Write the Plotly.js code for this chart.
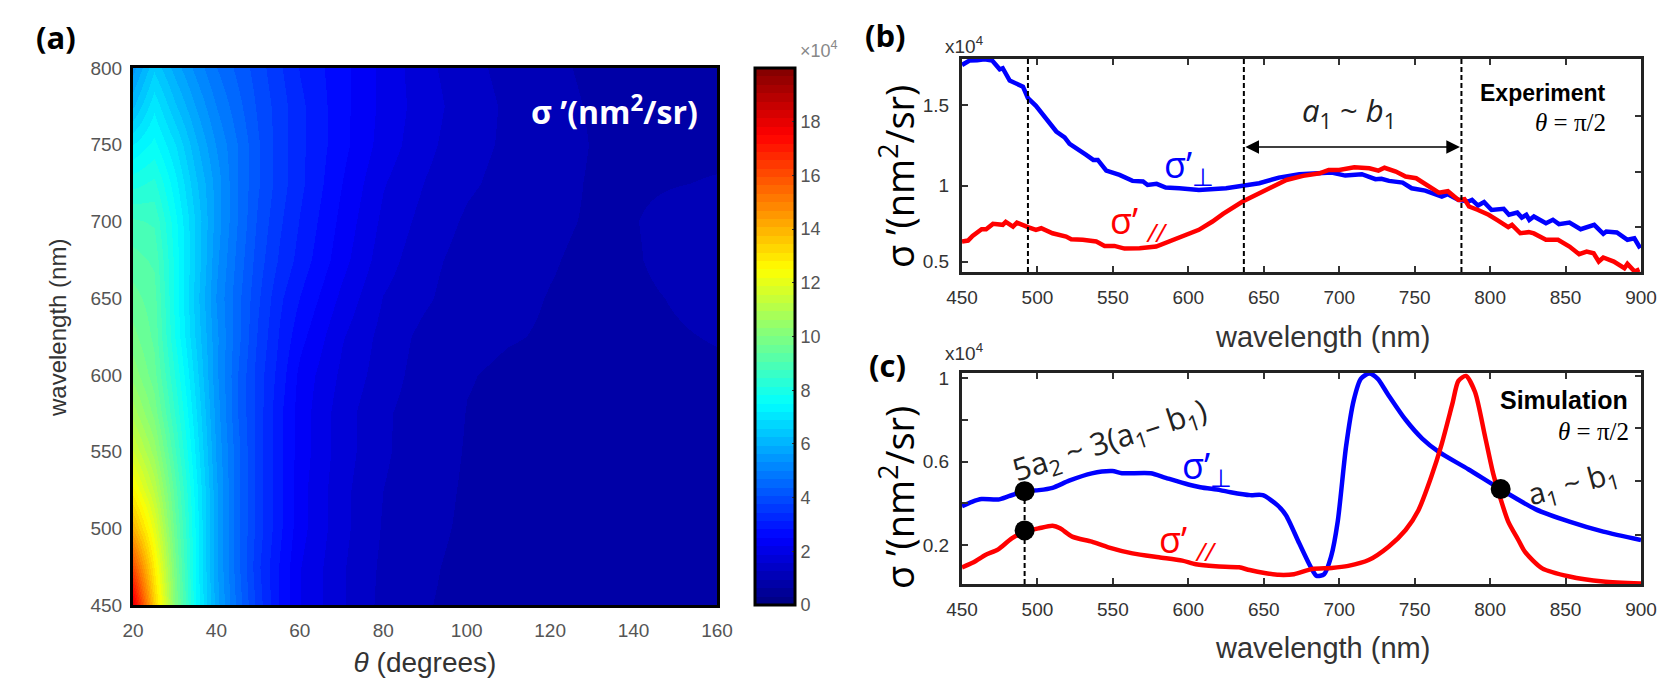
<!DOCTYPE html>
<html>
<head>
<meta charset="utf-8">
<script src="https://cdn.plot.ly/plotly-3.0.1.min.js"></script>
<style>
    html, body { margin: 0; padding: 0; background: #fff; }
</style>
</head>
<body>
<div id="chart" style="width:1672px;height:698px"></div>
<script>
// Panel (a) map, values in units of 1e4 nm^2/sr
const thetaDeg = [20, 25, 30, 35, 40, 45, 50, 55, 60, 70, 80, 90, 100, 110, 120, 130, 140, 150, 160];
const mapWavelength = [450, 475, 500, 525, 550, 575, 600, 625, 650, 675, 700, 725, 750, 775, 800];
const row450 = [18, 13.5, 10, 7.5, 5.8, 4.6, 3.6, 2.8, 2.2, 1.6, 1.15, .95, .88, .86, .85, .85, .85, .85, .85];
const row475 = [16, 12.8, 9.8, 7.4, 5.7, 4.5, 3.5, 2.8, 2.2, 1.6, 1.18, .97, .88, .86, .85, .85, .85, .85, .85];
const row500 = [14, 12, 9.5, 7.4, 5.7, 4.5, 3.6, 2.9, 2.3, 1.65, 1.22, 1, .9, .87, .86, .86, .86, .86, .86];
const row525 = [12.6, 11.2, 9.2, 7.3, 5.7, 4.5, 3.6, 2.9, 2.3, 1.65, 1.25, 1.02, .91, .88, .87, .87, .87, .87, .87];
const row550 = [11.6, 10.5, 8.8, 7.1, 5.6, 4.5, 3.6, 2.9, 2.35, 1.7, 1.3, 1.05, .92, .88, .88, .88, .88, .88, .88];
const row575 = [10.8, 9.9, 8.4, 6.9, 5.5, 4.4, 3.6, 2.9, 2.35, 1.7, 1.3, 1.08, .93, .89, .88, .88, .88, .88, .88];
const row600 = [10.2, 9.5, 8.1, 6.7, 5.4, 4.4, 3.6, 3, 2.4, 1.8, 1.4, 1.1, .95, .9, .89, .89, .89, .89, .9];
const row625 = [9.8, 9.3, 7.8, 6.5, 5.4, 4.5, 3.7, 3.1, 2.6, 1.9, 1.45, 1.15, 1, .95, .92, .9, .9, .92, .95];
const row650 = [9.5, 9.2, 7.7, 6.4, 5.3, 4.5, 3.8, 3.2, 2.8, 2.1, 1.55, 1.3, 1.05, .98, .93, .9, .9, .95, 1];
const row675 = [9.2, 9, 7.7, 6.5, 5.4, 4.6, 3.9, 3.4, 3, 2.3, 1.7, 1.35, 1.12, 1.02, .95, .9, .92, 1, 1.05];
const row700 = [8.8, 8.7, 7.6, 6.5, 5.5, 4.7, 4, 3.5, 3.1, 2.4, 1.8, 1.45, 1.2, 1.08, .97, .92, .93, 1, 1.05];
const row725 = [8, 8.2, 7.3, 6.3, 5.5, 4.7, 4.1, 3.6, 3.2, 2.5, 1.9, 1.55, 1.3, 1.15, 1, .92, .91, .93, .95];
const row750 = [7.2, 7.6, 6.9, 6, 5.3, 4.7, 4.1, 3.6, 3.2, 2.6, 2.05, 1.65, 1.35, 1.2, 1.02, .93, .9, .9, .9];
const row775 = [6.2, 7.1, 6.3, 5.6, 5, 4.5, 4, 3.6, 3.2, 2.6, 2.1, 1.7, 1.4, 1.2, 1, .92, .88, .88, .88];
const row800 = [5.5, 6.5, 5.8, 5.2, 4.7, 4.3, 3.9, 3.5, 3.1, 2.6, 2.1, 1.65, 1.35, 1.15, .98, .9, .88, .88, .88];
const mapValues = [row450, row475, row500, row525, row550, row575, row600, row625, row650, row675, row700, row725, row750, row775, row800];

// Panel (b) experiment, units of 1e4
const expPerpX = [450, 455, 460, 465, 470, 475, 477, 481.6, 490.4, 493.7, 499, 503.6, 512.5, 518, 521.3, 532.3, 537, 540, 545.6, 554.4, 563, 570, 573, 579, 585, 594, 607, 625, 636, 647, 660, 673.6, 695, 704, 715, 724, 728, 733, 742, 748, 757, 768, 772, 779, 785.5, 788, 792, 796, 801, 809, 812.5, 818, 821, 824, 826, 829, 837, 841.6, 845.6, 852.6, 860, 869, 875, 877, 884, 891, 895.6, 899.5];
const expPerpY = [1.758, 1.786, 1.788, 1.794, 1.786, 1.73, 1.737, 1.658, 1.619, 1.545, 1.496, 1.438, 1.332, 1.295, 1.253, 1.182, 1.15, 1.15, 1.082, 1.054, 1.016, 1.012, .99, .997, .973, .969, .958, .969, .984, 1.001, 1.037, 1.059, 1.069, 1.05, 1.059, 1.027, 1.029, 1.016, 1.005, .969, .954, .916, .931, .894, .884, .894, .858, .88, .83, .837, .799, .813, .781, .799, .766, .788, .745, .767, .739, .749, .707, .735, .677, .692, .686, .639, .649, .585];
const expParaX = [450, 454, 457, 463, 466, 470.5, 477, 479, 483.8, 486.4, 493.7, 499, 502.5, 510, 519, 522.4, 530, 539, 544.5, 551, 557.7, 567.7, 578.7, 587.5, 598.6, 607, 616, 623, 636, 645, 656, 665, 676, 687, 693, 700, 710, 720, 726, 730, 737.5, 744, 751, 760, 766, 772, 779, 783, 786, 792, 799, 804.5, 812, 814.5, 820, 825.6, 829, 837, 845, 852.6, 859, 864, 868.6, 872, 875, 882, 889, 891, 895.8, 899];
const expParaY = [.628, .634, .664, .707, .707, .741, .735, .754, .724, .749, .72, .703, .713, .681, .66, .643, .639, .628, .6, .6, .583, .585, .596, .628, .666, .703, .756, .805, .884, .926, .984, 1.022, 1.048, 1.065, 1.086, 1.086, 1.103, 1.097, 1.082, 1.1, 1.076, 1.044, 1.033, .98, .941, .95, .894, .899, .852, .83, .799, .766, .72, .735, .681, .688, .68, .639, .639, .596, .547, .564, .553, .5, .526, .5, .457, .485, .436, .45];

// Panel (c) simulation, units of 1e4
const simPerpX = [450, 456.6, 463, 474, 481, 492, 501, 510, 521, 536, 549.6, 556, 575, 585, 600, 608, 621, 628, 641, 649.3, 659, 664.7, 673.5, 681, 685, 690, 694.6, 699, 704.5, 709.6, 714.4, 720, 725.4, 732, 744, 755, 766, 785.5, 806.8, 830, 852.6, 875, 900];
const simPerpY = [.386, .407, .42, .418, .434, .458, .463, .474, .508, .543, .554, .544, .544, .522, .49, .477, .463, .453, .439, .439, .391, .343, .208, .096, .052, .06, .144, .312, .67, .893, .997, 1.022, .997, .925, .8, .71, .646, .563, .468, .372, .312, .264, .224];
const simParaX = [450, 457.7, 465.5, 474, 483, 492, 501, 510, 515, 523, 536, 547, 563, 580.5, 596, 605, 618, 633.6, 640.6, 651.5, 660, 670, 682, 695, 706, 719.5, 732.7, 744, 752.5, 761, 768, 775, 779, 784, 790, 796.7, 802, 806.5, 812, 818.7, 823, 834.5, 852.6, 875, 900];
const simParaY = [.093, .117, .152, .179, .232, .264, .28, .292, .28, .24, .216, .189, .16, .141, .125, .108, .098, .093, .08, .065, .057, .06, .085, .09, .1, .128, .192, .272, .367, .527, .686, .877, .986, 1.01, .933, .718, .543, .431, .312, .224, .168, .088, .049, .025, .015];
const dotX = [491.5, 491.5, 807];
const dotY = [.458, .27, .468];

// Tick positions as drawn in the figure
const mapXTicks = [20, 40, 60, 80, 100, 120, 140, 160];
const mapYTicks = [450, 500, 550, 600, 650, 700, 750, 800];
const cbarTicks = [0, 2, 4, 6, 8, 10, 12, 14, 16, 18];
const wlTicks = [450, 500, 550, 600, 650, 700, 750, 800, 850, 900];
const expTicks = [0.5, 0.985, 1.5];
const expTickText = ['0.5', '1', '1.5'];
const expTicksRight = [.719, 1.075, 1.433];
const simTicks = [0.2, 0.4, 0.6, 0.8, 1];
const simTickText = ['0.2', '', '0.6', '', '1'];
const simTicksRight = [.249, .507, .762, 1.011];
const expMarkers = [493.7, 636.8, 781];
const simMarker = 491.5;

const W = 1672, H = 698;
const BLUE = '#0000ff', RED = '#ff0000';
const SANS = 'Liberation Sans, Arial, sans-serif';
const OPEN = 'Open Sans, sans-serif';
const SERIF = 'Liberation Serif, serif';

// pixel box -> paper fractions
const domX = (a, b) => [a / W, b / W];
const domY = (top, bottom) => [1 - bottom / H, 1 - top / H];

// MATLAB jet with flat bands
function jetBands(n) {
    const col = (t) => {
        const r = Math.max(0, Math.min(1, 1.5 - Math.abs(4 * t - 3)));
        const g = Math.max(0, Math.min(1, 1.5 - Math.abs(4 * t - 2)));
        const b = Math.max(0, Math.min(1, 1.5 - Math.abs(4 * t - 1)));
        return `rgb(${Math.round(r * 255)},${Math.round(g * 255)},${Math.round(b * 255)})`;
    };
    const scale = [];
    for (let i = 0; i < n; i++) {
        const c = col((i + 0.5) / n);
        scale.push([i / n, c], [(i + 1) / n, c]);
    }
    return scale;
}

const traces = [
    {
        type: 'heatmap', x: thetaDeg, y: mapWavelength, z: mapValues,
        xaxis: 'x', yaxis: 'y', zmin: 0, zmax: 20, zsmooth: 'best',
        colorscale: jetBands(64),
        colorbar: {
            x: 755 / W, xanchor: 'left', xpad: 0, ypad: 0,
            y: 1 - 605 / H, yanchor: 'bottom',
            len: 537, lenmode: 'pixels', thickness: 40, thicknessmode: 'pixels',
            outlinecolor: '#000', outlinewidth: 3,
            tickvals: cbarTicks, ticks: 'inside', ticklen: 4, tickcolor: '#333',
            tickfont: { family: SANS, size: 18, color: '#555' }
        }
    },
    { type: 'scatter', mode: 'lines', x: expPerpX, y: expPerpY, xaxis: 'x2', yaxis: 'y2', line: { color: BLUE, width: 4.5 } },
    { type: 'scatter', mode: 'lines', x: expParaX, y: expParaY, xaxis: 'x2', yaxis: 'y2', line: { color: RED, width: 4.5 } },
    { type: 'scatter', mode: 'lines', x: simPerpX, y: simPerpY, xaxis: 'x3', yaxis: 'y3', line: { color: BLUE, width: 4.5, shape: 'spline', smoothing: 0.7 } },
    { type: 'scatter', mode: 'lines', x: simParaX, y: simParaY, xaxis: 'x3', yaxis: 'y3', line: { color: RED, width: 4.5, shape: 'spline', smoothing: 0.7 } },
    { type: 'scatter', mode: 'markers', x: dotX, y: dotY, xaxis: 'x3', yaxis: 'y3', marker: { color: '#000', size: 20 }, cliponaxis: false },
    // empty traces so the right-hand tick axes get drawn
    { type: 'scatter', x: [], y: [], xaxis: 'x2', yaxis: 'y4' },
    { type: 'scatter', x: [], y: [], xaxis: 'x3', yaxis: 'y5' }
];

const wlAxis = (domain, anchor) => ({
    domain, anchor, range: [450, 900], tickvals: wlTicks, ticks: 'inside', ticklen: 6, tickwidth: 1.5, tickcolor: '#333',
    showline: true, mirror: 'ticks', linecolor: '#222', linewidth: 3, showgrid: false, zeroline: false,
    ticklabelstandoff: 6,
    tickfont: { family: SANS, size: 19, color: '#333' }
});

const rightAxis = (overlay, range, vals) => ({
    overlaying: overlay, side: 'right', anchor: overlay === 'y2' ? 'x2' : 'x3', range, tickvals: vals, ticks: 'inside',
    ticklen: 6, tickwidth: 1.5, tickcolor: '#333', showticklabels: false, showgrid: false, zeroline: false, showline: false
});

const expRange = [.433, 1.796];
const simRange = [.0132, 1.024];

const note = (text, x, y, size, extra) => Object.assign({
    text, x: x / W, y: 1 - y / H, xref: 'paper', yref: 'paper', showarrow: false,
    font: { family: OPEN, size, color: '#000' }, xanchor: 'center', yanchor: 'middle'
}, extra || {});

const annotations = [
    note('<b>(a)</b>', 56, 37, 31),
    note('<b>(b)</b>', 886, 35, 31),
    note('<b>(c)</b>', 887, 365, 31),
    note('<b>σ ’(nm<sup>2</sup>/sr)</b>', 614, 110, 32, { font: { family: OPEN, size: 32, color: '#fff' } }),
    note('×10<sup>4</sup>', 819, 50, 18, { font: { family: SANS, size: 18, color: '#888' } }),
    note('x10<sup>4</sup>', 964, 45, 19, { font: { family: SANS, size: 19, color: '#333' } }),
    note('x10<sup>4</sup>', 964, 352, 19, { font: { family: SANS, size: 19, color: '#333' } }),
    note('wavelength (nm)', 58, 328, 24, { textangle: -90, font: { family: SANS, size: 24, color: '#333' } }),
    note('σ ’(nm<sup>2</sup>/sr)', 897, 177, 38, { textangle: -90 }),
    note('σ ’(nm<sup>2</sup>/sr)', 897, 498, 38, { textangle: -90 }),
    note('wavelength (nm)', 1322, 337, 29, { font: { family: SANS, size: 29, color: '#333' } }),
    note('wavelength (nm)', 1322, 648, 29, { font: { family: SANS, size: 29, color: '#333' } }),
    note('<b>Experiment</b>', 1608, 93, 23, { xanchor: 'right', font: { family: SANS, size: 23, color: '#000' } }),
    note('<i>θ</i> = π/2', 1608, 123, 25, { xanchor: 'right', font: { family: SERIF, size: 25, color: '#000' } }),
    note('<b>Simulation</b>', 1630, 400, 25, { xanchor: 'right', font: { family: SANS, size: 25, color: '#000' } }),
    note('<i>θ</i> = π/2', 1631, 431, 25, { xanchor: 'right', font: { family: SERIF, size: 25, color: '#000' } }),
    note('<i>a</i><sub>1</sub> ~ <i>b</i><sub>1</sub>', 1349, 112, 31, { font: { family: OPEN, size: 31, color: '#222' } }),
    note('σ’<sub>⊥</sub>', 1189, 167, 36, { font: { family: OPEN, size: 36, color: BLUE } }),
    note('σ’ <sub><i>//</i></sub>', 1138, 222, 36, { font: { family: OPEN, size: 36, color: RED } }),
    note('σ’<sub>⊥</sub>', 1207, 467, 36, { font: { family: OPEN, size: 36, color: BLUE } }),
    note('σ’ <sub><i>//</i></sub>', 1187, 541, 36, { font: { family: OPEN, size: 36, color: RED } }),
    note('5a<sub>2</sub> ~ 3(a<sub>1</sub>– b<sub>1</sub>)', 1110, 441, 31, { textangle: -18, font: { family: OPEN, size: 31, color: '#222' } }),
    note('a<sub>1</sub> ~ b<sub>1</sub>', 1573, 484, 30, { textangle: -15, font: { family: OPEN, size: 30, color: '#222' } }),
    // double headed span arrow between the two dashed markers
    {
        x: expMarkers[1] + 1, y: 1.233, ax: expMarkers[2], ay: 1.233, xref: 'x2', yref: 'y2', axref: 'x2', ayref: 'y2',
        text: '', showarrow: true, arrowside: 'end+start', arrowhead: 2, startarrowhead: 2,
        arrowsize: 1.7, startarrowsize: 1.7, arrowwidth: 1.6, arrowcolor: '#000'
    }
];

const shapes = expMarkers.map((x) => ({
    type: 'line', xref: 'x2', yref: 'paper', x0: x, x1: x, y0: domY(57, 272)[0], y1: domY(57, 272)[1],
    line: { color: '#000', width: 2, dash: '5px,3px' }
}));
shapes.push({
    type: 'line', xref: 'x3', yref: 'y3', x0: simMarker, x1: simMarker, y0: simRange[0], y1: dotY[0],
    line: { color: '#000', width: 2, dash: '5px,3px' }
});

const layout = {
    width: W, height: H, margin: { l: 0, r: 0, t: 0, b: 0 },
    paper_bgcolor: '#fff', plot_bgcolor: '#fff', showlegend: false,
    xaxis: {
        domain: domX(133, 717), anchor: 'y', range: [20, 160], tickvals: mapXTicks, ticks: '',
        showline: true, mirror: true, linecolor: '#000', linewidth: 3, showgrid: false, zeroline: false,
        ticklabelstandoff: 6, tickfont: { family: SANS, size: 19, color: '#555' },
        title: { text: '<i>θ</i> (degrees)', standoff: 13, font: { family: SANS, size: 28, color: '#333' } }
    },
    yaxis: {
        domain: domY(68, 605), anchor: 'x', range: [450, 800], tickvals: mapYTicks, ticks: '',
        showline: true, mirror: true, linecolor: '#000', linewidth: 3, showgrid: false, zeroline: false,
        ticklabelstandoff: 4, tickfont: { family: SANS, size: 19, color: '#555' }
    },
    xaxis2: wlAxis(domX(962, 1641), 'y2'),
    yaxis2: {
        domain: domY(59, 272), anchor: 'x2', range: expRange, tickvals: expTicks, ticktext: expTickText, ticks: 'inside', ticklen: 6, tickwidth: 1.5, tickcolor: '#333',
        showline: true, mirror: true, linecolor: '#222', linewidth: 3, showgrid: false, zeroline: false,
        ticklabelstandoff: 6, tickfont: { family: SANS, size: 19, color: '#333' }
    },
    yaxis4: Object.assign(rightAxis('y2', expRange, expTicksRight), { domain: domY(59, 272) }),
    xaxis3: wlAxis(domX(962, 1641), 'y3'),
    yaxis3: {
        domain: domY(373, 584), anchor: 'x3', range: simRange, tickvals: simTicks, ticktext: simTickText, ticks: 'inside', ticklen: 6, tickwidth: 1.5, tickcolor: '#333',
        showline: true, mirror: true, linecolor: '#222', linewidth: 3, showgrid: false, zeroline: false,
        ticklabelstandoff: 6, tickfont: { family: SANS, size: 19, color: '#333' }
    },
    yaxis5: Object.assign(rightAxis('y3', simRange, simTicksRight), { domain: domY(373, 584) }),
    annotations, shapes
};

Plotly.newPlot('chart', traces, layout, { displayModeBar: false, responsive: false });
</script>
</body>
</html>
